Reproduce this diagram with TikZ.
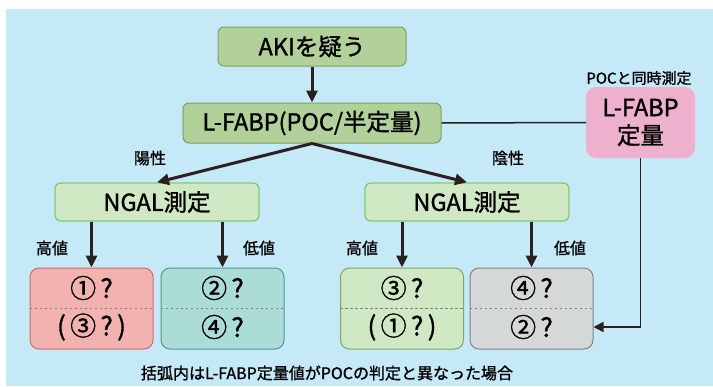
\documentclass[tikz,border=0pt]{standalone}
\usepackage{fontspec}
\setmainfont{Noto Sans CJK JP}[FakeBold=1.2,AutoFakeBold=1.2]
\usetikzlibrary{arrows.meta,calc}
\definecolor{bgblue}{HTML}{C6E9F8}
\definecolor{akifill}{HTML}{B1D09A}
\definecolor{akidraw}{HTML}{7E9E63}
\definecolor{ngalfill}{HTML}{D1E8C5}
\definecolor{ngaldraw}{HTML}{7FCB73}
\definecolor{pinkfill}{HTML}{EEB1CD}
\definecolor{redfill}{HTML}{F1B2B0}
\definecolor{reddraw}{HTML}{D06A6A}
\definecolor{tealfill}{HTML}{ABDCD8}
\definecolor{tealdraw}{HTML}{4E9A8C}
\definecolor{grnfill}{HTML}{D1E8C5}
\definecolor{grndraw}{HTML}{7FA862}
\definecolor{grayfill}{HTML}{D5D8D9}
\definecolor{graydraw}{HTML}{808485}
\definecolor{dark}{HTML}{2B201E}
\tikzset{
  mainbox/.style={draw=akidraw, fill=akifill, line width=1pt, rounded corners=6pt, font=\fontsize{23.5}{25}\selectfont\bfseries, inner sep=0pt},
  ngalbox/.style={draw=ngaldraw, fill=ngalfill, line width=1.3pt, rounded corners=6pt, font=\fontsize{23.5}{25}\selectfont\bfseries, inner sep=0pt, minimum width=204pt, minimum height=38pt},
  resbox/.style={line width=1pt, rounded corners=9pt, inner sep=0pt, minimum width=123pt, minimum height=81pt},
  restext/.style={font=\fontsize{26}{28}\selectfont\bfseries, inner sep=0pt},
  lbl/.style={font=\fontsize{16}{18}\selectfont\bfseries, inner sep=0pt},
  bigarrow/.style={draw=dark, line width=3pt, -{Triangle[length=12pt,width=11pt]}},
  thinline/.style={draw=dark, line width=1.5pt},
  sep/.style={draw=graydraw, line width=0.7pt, dash pattern=on 2.5pt off 2.5pt},
}
\begin{document}
\begin{tikzpicture}[x=1pt,y=-1pt]
\useasboundingbox (0,0) rectangle (713,386);
\fill[bgblue] (6,9) rectangle (713,386);

\node[mainbox, minimum width=188pt, minimum height=39pt] (aki) at (312,46.5) {AKIを疑う};
\node[mainbox, minimum width=258pt, minimum height=40pt] (lfabp) at (312,123) {L-FABP(POC/半定量)};
\node[fill=pinkfill, rounded corners=10pt, minimum width=109pt, minimum height=71pt, inner sep=0pt, align=center, font=\fontsize{23.5}{28}\selectfont\bfseries] (pink) at (640.5,122.5) {L-FABP\\定量};
\node[font=\fontsize{15}{17}\selectfont\bfseries, inner sep=0pt] (poc) at (639,78) {POCと同時測定};

\node[ngalbox] (ngalL) at (157,202) {NGAL測定};
\node[ngalbox] (ngalR) at (467,202) {NGAL測定};

\node[resbox, draw=reddraw, fill=redfill] (b1) at (91.5,308.5) {};
\node[resbox, draw=tealdraw, fill=tealfill] (b2) at (222.5,308.5) {};
\node[resbox, draw=grndraw, fill=grnfill] (b3) at (402,308.5) {};
\node[resbox, draw=graydraw, fill=grayfill] (b4) at (531.5,308.5) {};

\foreach \b in {b1,b2,b3,b4} {\draw[sep] (\b.west) -- (\b.east);}

\node[restext] (t1a) at ($(b1.center)+(0,-20.5)$) {①\,?};
\node[restext] (t1b) at ($(b1.center)+(0,18.5)$) {(\,③\,?\,)};
\node[restext] (t2a) at ($(b2.center)+(0,-20.5)$) {②\,?};
\node[restext] (t2b) at ($(b2.center)+(0,18.5)$) {④\,?};
\node[restext] (t3a) at ($(b3.center)+(0,-20.5)$) {③\,?};
\node[restext] (t3b) at ($(b3.center)+(0,18.5)$) {(\,①\,?\,)};
\node[restext] (t4a) at ($(b4.center)+(0,-20.5)$) {④\,?};
\node[restext] (t4b) at ($(b4.center)+(0,18.5)$) {②\,?};

\draw[bigarrow] (aki.south) -- (lfabp.north);
\draw[bigarrow] (lfabp.south) -- (ngalL.north);
\draw[bigarrow] (lfabp.south) -- (ngalR.north);
\draw[bigarrow] (ngalL.south -| b1.north) -- (b1.north);
\draw[bigarrow] (ngalL.south -| b2.north) -- (b2.north);
\draw[bigarrow] (ngalR.south -| b3.north) -- (b3.north);
\draw[bigarrow] (ngalR.south -| b4.north) -- (b4.north);

\draw[thinline] (lfabp.east) -- (pink.west);
\coordinate (b4r) at ($(b4.east)+(0,18.5)$);
\draw[thinline, -{Triangle[length=10pt,width=10pt]}] (pink.south) |- (b4r);

\node[lbl] (pos) at (150,158) {陽性};
\node[lbl] (neg) at (508,158) {陰性};
\node[lbl] (h1) at (52,248) {高値};
\node[lbl] (l1) at (259,248) {低値};
\node[lbl] (h2) at (362,248) {高値};
\node[lbl] (l2) at (570,248) {低値};

\node[lbl] (cap) at (327,373) {括弧内はL-FABP定量値がPOCの判定と異なった場合};
\end{tikzpicture}
\end{document}
